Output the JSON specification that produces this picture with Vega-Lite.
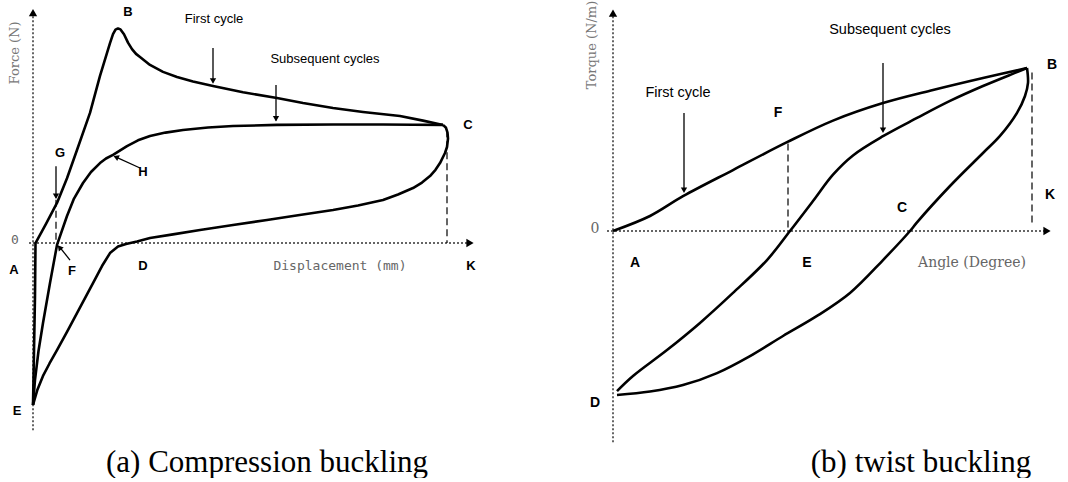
{
  "$schema": "https://vega.github.io/schema/vega-lite/v6.json",
  "background": "white",
  "padding": 0,
  "spacing": 40,
  "config": {"view": {"stroke": null}, "concat": {"spacing": 40}},
  "datasets": {
    "a_curves": [
      {"s":"f","i":1,"x":0,"y":-67.5},{"s":"f","i":2,"x":0.2,"y":-45},{"s":"f","i":3,"x":0.4,"y":-22},{"s":"f","i":4,"x":0.5,"y":0},
      {"s":"f","i":5,"x":2.6,"y":8},{"s":"f","i":6,"x":4.8,"y":16.7},{"s":"f","i":7,"x":6.8,"y":27},{"s":"f","i":8,"x":8.8,"y":38.75},
      {"s":"f","i":9,"x":11.4,"y":54.2},{"s":"f","i":10,"x":13.4,"y":69.6},{"s":"f","i":11,"x":15.4,"y":83.3},{"s":"f","i":12,"x":16,"y":87},
      {"s":"f","i":13,"x":16.5,"y":88.9},{"s":"f","i":14,"x":17,"y":89.4},{"s":"f","i":15,"x":17.5,"y":89},{"s":"f","i":16,"x":18.2,"y":87},
      {"s":"f","i":17,"x":19,"y":83.5},{"s":"f","i":18,"x":19.8,"y":80.8},{"s":"f","i":19,"x":20.6,"y":78.8},{"s":"f","i":20,"x":21.4,"y":77.5},
      {"s":"f","i":21,"x":23.4,"y":74.2},{"s":"f","i":22,"x":26,"y":71.3},{"s":"f","i":23,"x":28.8,"y":69.2},{"s":"f","i":24,"x":32,"y":67.3},
      {"s":"f","i":25,"x":36,"y":65.4},{"s":"f","i":26,"x":42,"y":62.8},{"s":"f","i":27,"x":48.8,"y":60.4},{"s":"f","i":28,"x":54,"y":58.3},
      {"s":"f","i":29,"x":60,"y":56.25},{"s":"f","i":30,"x":66,"y":54.6},{"s":"f","i":31,"x":73.4,"y":52.9},{"s":"f","i":32,"x":78,"y":51},
      {"s":"f","i":33,"x":82,"y":49.2},
      {"s":"u","i":1,"x":0,"y":-67.5},{"s":"u","i":2,"x":0.4,"y":-57},{"s":"u","i":3,"x":1.1,"y":-45},{"s":"u","i":4,"x":2,"y":-33.3},
      {"s":"u","i":5,"x":3.4,"y":-16.7},{"s":"u","i":6,"x":4.8,"y":-0.8},{"s":"u","i":7,"x":6.8,"y":11.25},{"s":"u","i":8,"x":8.2,"y":18.5},
      {"s":"u","i":9,"x":10,"y":25},{"s":"u","i":10,"x":11.6,"y":29.6},{"s":"u","i":11,"x":13.4,"y":33.3},{"s":"u","i":12,"x":14.6,"y":35.2},
      {"s":"u","i":13,"x":16,"y":36.7},{"s":"u","i":14,"x":18.8,"y":40.4},{"s":"u","i":15,"x":21,"y":42.8},{"s":"u","i":16,"x":23.4,"y":44.6},
      {"s":"u","i":17,"x":26.5,"y":46},{"s":"u","i":18,"x":30,"y":47.1},{"s":"u","i":19,"x":35,"y":48.1},{"s":"u","i":20,"x":40,"y":48.75},
      {"s":"u","i":21,"x":48.8,"y":49.2},{"s":"u","i":22,"x":60,"y":49.4},{"s":"u","i":23,"x":70,"y":49.4},{"s":"u","i":24,"x":76,"y":49.3},
      {"s":"u","i":25,"x":82,"y":49.2},
      {"s":"l","i":1,"x":82,"y":49.2},{"s":"l","i":2,"x":82.6,"y":48},{"s":"l","i":3,"x":82.9,"y":46},{"s":"l","i":4,"x":83,"y":43.5},
      {"s":"l","i":5,"x":82.8,"y":40},{"s":"l","i":6,"x":82.4,"y":37.5},{"s":"l","i":7,"x":81.4,"y":33.3},{"s":"l","i":8,"x":80.5,"y":30.5},
      {"s":"l","i":9,"x":79.4,"y":27.9},{"s":"l","i":10,"x":77.8,"y":25.2},{"s":"l","i":11,"x":76,"y":22.9},{"s":"l","i":12,"x":73,"y":20.2},
      {"s":"l","i":13,"x":70,"y":17.9},{"s":"l","i":14,"x":65,"y":15.6},{"s":"l","i":15,"x":60,"y":13.75},{"s":"l","i":16,"x":53,"y":11.6},
      {"s":"l","i":17,"x":46.8,"y":9.6},{"s":"l","i":18,"x":40,"y":7.5},{"s":"l","i":19,"x":33.4,"y":5.4},{"s":"l","i":20,"x":28,"y":3.6},
      {"s":"l","i":21,"x":23.4,"y":2.1},{"s":"l","i":22,"x":20.8,"y":0.6},{"s":"l","i":23,"x":18.6,"y":-0.4},{"s":"l","i":24,"x":17,"y":-1.5},
      {"s":"l","i":25,"x":15.4,"y":-4.2},{"s":"l","i":26,"x":13.8,"y":-9.6},{"s":"l","i":27,"x":12,"y":-16.7},{"s":"l","i":28,"x":10.4,"y":-23},
      {"s":"l","i":29,"x":8.8,"y":-29.2},{"s":"l","i":30,"x":6.8,"y":-37},{"s":"l","i":31,"x":4.8,"y":-44.6},{"s":"l","i":32,"x":3.3,"y":-50.2},
      {"s":"l","i":33,"x":2,"y":-55.4},{"s":"l","i":34,"x":0.9,"y":-61},{"s":"l","i":35,"x":0,"y":-67.5}
    ],
    "a_guides": [
      {"k":"axis","x":0,"y":-78,"x2":0,"y2":96},
      {"k":"axis","x":-0.8,"y":0,"x2":87,"y2":0},
      {"k":"dash","x":82.8,"y":47,"x2":82.8,"y2":0},
      {"k":"dash","x":4.6,"y":18,"x2":4.6,"y2":0},
      {"k":"ptr","x":36,"y":81.25,"x2":36,"y2":67},
      {"k":"ptr","x":48.6,"y":65.8,"x2":48.6,"y2":51},
      {"k":"ptr","x":4.6,"y":32,"x2":4.6,"y2":19},
      {"k":"ptr","x":21.4,"y":31.25,"x2":16.4,"y2":36},
      {"k":"ptr","x":7.4,"y":-7.1,"x2":5.3,"y2":-1.6}
    ],
    "a_heads": [
      {"d":"up","x":0,"y":96},
      {"d":"right","x":87.4,"y":0},
      {"d":"down","x":36,"y":67.5},
      {"d":"down","x":48.6,"y":51.8},
      {"d":"down","x":4.6,"y":19.5},
      {"d":"h","x":16.6,"y":35.8},
      {"d":"fa","x":5.3,"y":-1.8}
    ],
    "a_labels": [
      {"k":"pt","t":"B","x":19,"y":96.25},
      {"k":"pt","t":"C","x":87,"y":49.2},
      {"k":"pt","t":"G","x":5.4,"y":37.5},
      {"k":"pt","t":"H","x":22,"y":29.6},
      {"k":"pt","t":"A","x":-3.8,"y":-11.25},
      {"k":"pt","t":"F","x":7.8,"y":-11.7},
      {"k":"pt","t":"D","x":22,"y":-9.6},
      {"k":"pt","t":"K","x":87.6,"y":-9.6},
      {"k":"pt","t":"E","x":-3.2,"y":-70},
      {"k":"txt","t":"First cycle","x":36.2,"y":93.3},
      {"k":"txt","t":"Subsequent cycles","x":58.4,"y":76.7},
      {"k":"ax","t":"0","x":-3.6,"y":1.25},
      {"k":"ax","t":"Displacement (mm)","x":61.4,"y":-9.6},
      {"k":"yt","t":"Force (N)","x":-3.6,"y":79.2}
    ],
    "b_curves": [
      {"s":"f","i":1,"x":-0.4,"y":0},{"s":"f","i":2,"x":7,"y":6.25},{"s":"f","i":3,"x":13.6,"y":14.5},{"s":"f","i":4,"x":23.6,"y":25.4},
      {"s":"f","i":5,"x":34.4,"y":37},{"s":"f","i":6,"x":43.6,"y":46},{"s":"f","i":7,"x":53.6,"y":53.3},{"s":"f","i":8,"x":63.6,"y":58.75},
      {"s":"f","i":9,"x":73.6,"y":63.75},{"s":"f","i":10,"x":82.4,"y":67.9},
      {"s":"u","i":1,"x":0.4,"y":-66.7},{"s":"u","i":2,"x":3.6,"y":-60.4},{"s":"u","i":3,"x":10.4,"y":-49.6},{"s":"u","i":4,"x":17,"y":-38.3},
      {"s":"u","i":5,"x":23.6,"y":-25.8},{"s":"u","i":6,"x":30.4,"y":-12.1},{"s":"u","i":7,"x":35,"y":0},{"s":"u","i":8,"x":39.6,"y":12.5},
      {"s":"u","i":9,"x":43.6,"y":23.5},{"s":"u","i":10,"x":47.6,"y":31.5},{"s":"u","i":11,"x":53.6,"y":39.5},{"s":"u","i":12,"x":60.4,"y":47.1},
      {"s":"u","i":13,"x":67,"y":54.2},{"s":"u","i":14,"x":73.6,"y":60.4},{"s":"u","i":15,"x":80.4,"y":66.2},{"s":"u","i":16,"x":82.4,"y":67.9},
      {"s":"l","i":1,"x":82.4,"y":67.9},{"s":"l","i":2,"x":82.6,"y":61.7},{"s":"l","i":3,"x":82,"y":56.25},{"s":"l","i":4,"x":80.4,"y":49.2},
      {"s":"l","i":5,"x":77,"y":39.6},{"s":"l","i":6,"x":73.6,"y":32.5},{"s":"l","i":7,"x":67,"y":18.75},{"s":"l","i":8,"x":60.4,"y":3.6},
      {"s":"l","i":9,"x":59,"y":0},{"s":"l","i":10,"x":53.6,"y":-12.1},{"s":"l","i":11,"x":47,"y":-25.8},{"s":"l","i":12,"x":40.4,"y":-35.4},
      {"s":"l","i":13,"x":33.6,"y":-43.75},{"s":"l","i":14,"x":27,"y":-52.1},{"s":"l","i":15,"x":20.4,"y":-59.2},{"s":"l","i":16,"x":13.6,"y":-64.2},
      {"s":"l","i":17,"x":7,"y":-66.9},{"s":"l","i":18,"x":0.4,"y":-68.3}
    ],
    "b_guides": [
      {"k":"axis","x":-0.4,"y":-88,"x2":-0.4,"y2":90.5},
      {"k":"axis","x":-1.6,"y":0,"x2":86,"y2":0},
      {"k":"dash","x":34.6,"y":36.5,"x2":34.6,"y2":0},
      {"k":"dash","x":83.4,"y":66,"x2":83.4,"y2":2},
      {"k":"ptr","x":13.8,"y":49.2,"x2":13.8,"y2":17},
      {"k":"ptr","x":53.6,"y":70,"x2":53.6,"y2":42}
    ],
    "b_heads": [
      {"d":"up","x":-0.4,"y":90.8},
      {"d":"right","x":86.4,"y":0},
      {"d":"down","x":13.8,"y":17},
      {"d":"down","x":53.6,"y":42}
    ],
    "b_labels": [
      {"k":"pt","t":"B","x":87.4,"y":69.2},
      {"k":"pt","t":"F","x":32.6,"y":49.2},
      {"k":"pt","t":"K","x":87,"y":15},
      {"k":"pt","t":"C","x":57.4,"y":9.6},
      {"k":"pt","t":"A","x":4,"y":-13.3},
      {"k":"pt","t":"E","x":38.4,"y":-13.3},
      {"k":"pt","t":"D","x":-4,"y":-71.7},
      {"k":"txt","t":"First cycle","x":12.6,"y":57.5},
      {"k":"txt","t":"Subsequent  cycles","x":55,"y":83.75},
      {"k":"ax","t":"0","x":-4,"y":0.8},
      {"k":"ax","t":"Angle (Degree)","x":71.4,"y":-13.3},
      {"k":"yt","t":"Torque (N/m)","x":-4.6,"y":77.5}
    ]
  },
  "hconcat": [
    {
      "width": 500,
      "height": 440,
      "title": {"text": "(a)  Compression buckling", "orient": "bottom", "anchor": "middle", "dx": 17, "offset": 5, "font": "Liberation Serif", "fontSize": 31, "fontWeight": "normal", "color": "black"},
      "encoding": {
        "x": {"field": "x", "type": "quantitative", "scale": {"domain": [-6.6, 93.4], "nice": false, "zero": false}, "axis": null},
        "y": {"field": "y", "type": "quantitative", "scale": {"domain": [-83.33, 100], "nice": false, "zero": false}, "axis": null}
      },
      "layer": [
        {"data": {"name": "a_guides"}, "transform": [{"filter": "datum.k == 'axis'"}], "mark": {"type": "rule", "strokeDash": [2, 2], "strokeWidth": 1.5, "color": "#333"}, "encoding": {"x2": {"field": "x2"}, "y2": {"field": "y2"}}},
        {"data": {"name": "a_guides"}, "transform": [{"filter": "datum.k == 'dash'"}], "mark": {"type": "rule", "strokeDash": [7, 4], "strokeWidth": 1.2, "color": "black"}, "encoding": {"x2": {"field": "x2"}, "y2": {"field": "y2"}}},
        {"data": {"name": "a_guides"}, "transform": [{"filter": "datum.k == 'ptr'"}], "mark": {"type": "rule", "strokeWidth": 1.3, "color": "black"}, "encoding": {"x2": {"field": "x2"}, "y2": {"field": "y2"}}},
        {"data": {"name": "a_curves"}, "mark": {"type": "line", "color": "black", "strokeWidth": 2.6, "interpolate": "linear", "strokeJoin": "round"}, "encoding": {"detail": {"field": "s"}, "order": {"field": "i", "type": "quantitative"}}},
        {"data": {"name": "a_heads"}, "transform": [{"filter": "datum.d == 'up'"}], "mark": {"type": "point", "shape": "triangle-up", "filled": true, "size": 70, "color": "black", "opacity": 1}},
        {"data": {"name": "a_heads"}, "transform": [{"filter": "datum.d == 'right'"}], "mark": {"type": "point", "shape": "triangle-right", "filled": true, "size": 70, "color": "black", "opacity": 1}},
        {"data": {"name": "a_heads"}, "transform": [{"filter": "datum.d == 'down'"}], "mark": {"type": "point", "shape": "triangle-down", "filled": true, "size": 40, "color": "black", "opacity": 1}},
        {"data": {"name": "a_heads"}, "transform": [{"filter": "datum.d == 'h'"}], "mark": {"type": "point", "shape": "triangle-up", "angle": 294, "filled": true, "size": 40, "color": "black", "opacity": 1}},
        {"data": {"name": "a_heads"}, "transform": [{"filter": "datum.d == 'fa'"}], "mark": {"type": "point", "shape": "triangle-up", "angle": 320, "filled": true, "size": 40, "color": "black", "opacity": 1}},
        {"data": {"name": "a_labels"}, "transform": [{"filter": "datum.k == 'pt'"}], "mark": {"type": "text", "font": "Liberation Sans", "fontSize": 13, "fontWeight": "bold", "color": "black"}, "encoding": {"text": {"field": "t"}}},
        {"data": {"name": "a_labels"}, "transform": [{"filter": "datum.k == 'txt'"}], "mark": {"type": "text", "font": "Liberation Sans", "fontSize": 13, "color": "black"}, "encoding": {"text": {"field": "t"}}},
        {"data": {"name": "a_labels"}, "transform": [{"filter": "datum.k == 'ax'"}], "mark": {"type": "text", "font": "DejaVu Sans Mono", "fontSize": 13, "color": "#666"}, "encoding": {"text": {"field": "t"}}},
        {"data": {"name": "a_labels"}, "transform": [{"filter": "datum.k == 'yt'"}], "mark": {"type": "text", "font": "DejaVu Serif", "fontSize": 13, "color": "#777", "angle": 270}, "encoding": {"text": {"field": "t"}}}
      ]
    },
    {
      "width": 528,
      "height": 440,
      "title": {"text": "(b) twist buckling", "orient": "bottom", "anchor": "middle", "dx": 117, "offset": 5, "font": "Liberation Serif", "fontSize": 31, "fontWeight": "normal", "color": "black"},
      "encoding": {
        "x": {"field": "x", "type": "quantitative", "scale": {"domain": [-15, 90.6], "nice": false, "zero": false}, "axis": null},
        "y": {"field": "y", "type": "quantitative", "scale": {"domain": [-88.33, 95], "nice": false, "zero": false}, "axis": null}
      },
      "layer": [
        {"data": {"name": "b_guides"}, "transform": [{"filter": "datum.k == 'axis'"}], "mark": {"type": "rule", "strokeDash": [2, 2], "strokeWidth": 1.5, "color": "#333"}, "encoding": {"x2": {"field": "x2"}, "y2": {"field": "y2"}}},
        {"data": {"name": "b_guides"}, "transform": [{"filter": "datum.k == 'dash'"}], "mark": {"type": "rule", "strokeDash": [7, 4], "strokeWidth": 1.2, "color": "black"}, "encoding": {"x2": {"field": "x2"}, "y2": {"field": "y2"}}},
        {"data": {"name": "b_guides"}, "transform": [{"filter": "datum.k == 'ptr'"}], "mark": {"type": "rule", "strokeWidth": 1.3, "color": "black"}, "encoding": {"x2": {"field": "x2"}, "y2": {"field": "y2"}}},
        {"data": {"name": "b_curves"}, "mark": {"type": "line", "color": "black", "strokeWidth": 2.6, "interpolate": "catmull-rom"}, "encoding": {"detail": {"field": "s"}, "order": {"field": "i", "type": "quantitative"}}},
        {"data": {"name": "b_heads"}, "transform": [{"filter": "datum.d == 'up'"}], "mark": {"type": "point", "shape": "triangle-up", "filled": true, "size": 70, "color": "black", "opacity": 1}},
        {"data": {"name": "b_heads"}, "transform": [{"filter": "datum.d == 'right'"}], "mark": {"type": "point", "shape": "triangle-right", "filled": true, "size": 70, "color": "black", "opacity": 1}},
        {"data": {"name": "b_heads"}, "transform": [{"filter": "datum.d == 'down'"}], "mark": {"type": "point", "shape": "triangle-down", "filled": true, "size": 40, "color": "black", "opacity": 1}},
        {"data": {"name": "b_labels"}, "transform": [{"filter": "datum.k == 'pt'"}], "mark": {"type": "text", "font": "Liberation Sans", "fontSize": 14, "fontWeight": "bold", "color": "black"}, "encoding": {"text": {"field": "t"}}},
        {"data": {"name": "b_labels"}, "transform": [{"filter": "datum.k == 'txt'"}], "mark": {"type": "text", "font": "Liberation Sans", "fontSize": 14.5, "color": "black"}, "encoding": {"text": {"field": "t"}}},
        {"data": {"name": "b_labels"}, "transform": [{"filter": "datum.k == 'ax'"}], "mark": {"type": "text", "font": "DejaVu Serif", "fontSize": 14, "color": "#666"}, "encoding": {"text": {"field": "t"}}},
        {"data": {"name": "b_labels"}, "transform": [{"filter": "datum.k == 'yt'"}], "mark": {"type": "text", "font": "DejaVu Serif", "fontSize": 13, "color": "#777", "angle": 270}, "encoding": {"text": {"field": "t"}}}
      ]
    }
  ]
}
